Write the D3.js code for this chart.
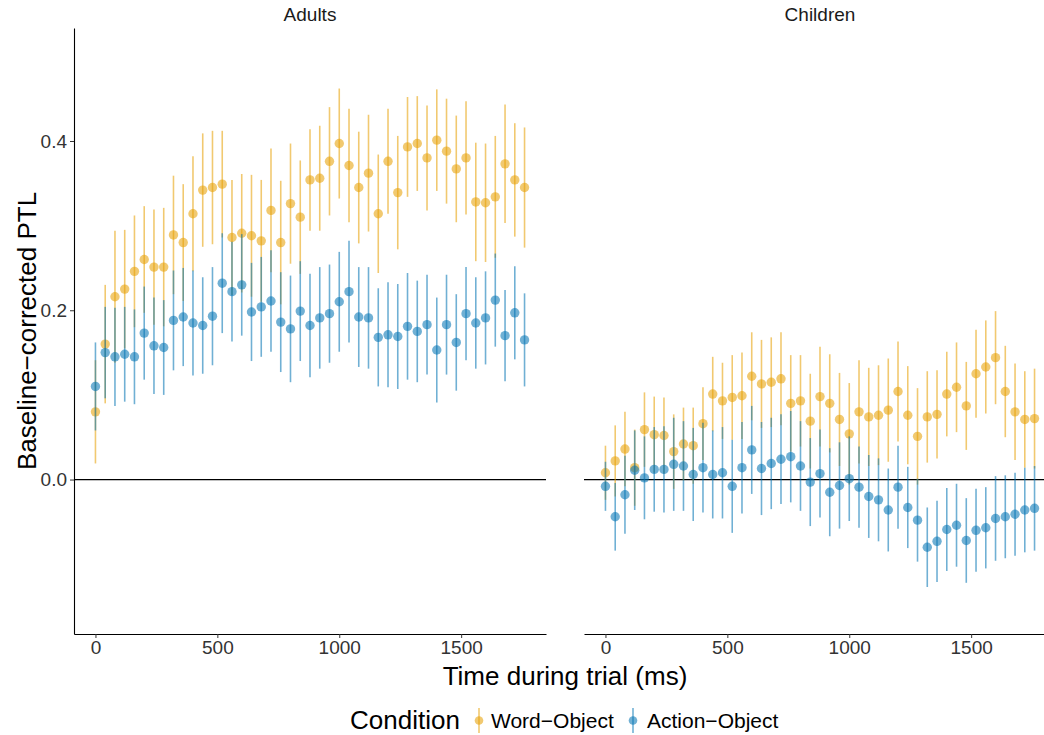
<!DOCTYPE html>
<html>
<head>
<meta charset="utf-8">
<script src="https://cdn.jsdelivr.net/npm/d3@7"></script>
<style>
  body { margin: 0; background: #fff; }
  svg { display: block; font-family: "Liberation Sans", Arial, sans-serif; }
</style>
</head>
<body>
<svg id="chart" width="1044" height="735"></svg>
<script>
// time bins (ms)
var times = [0, 40, 80, 120, 160, 200, 240, 280, 320, 360, 400, 440, 480, 520, 560,
  600, 640, 680, 720, 760, 800, 840, 880, 920, 960, 1000, 1040, 1080, 1120, 1160,
  1200, 1240, 1280, 1320, 1360, 1400, 1440, 1480, 1520, 1560, 1600, 1640, 1680, 1720, 1760];

var panels = ["Adults", "Children"];
var conditions = ["Word\u2212Object", "Action\u2212Object"];
var yTicks = [0, 0.2, 0.4];
var xTicks = [0, 500, 1000, 1500];

// Adults
var adultWord = [0.080, 0.160, 0.216, 0.225, 0.246, 0.260, 0.251, 0.251, 0.289, 0.280, 0.314, 0.342, 0.345, 0.349, 0.286,
  0.291, 0.288, 0.282, 0.318, 0.280, 0.326, 0.310, 0.354, 0.356, 0.376, 0.397, 0.371, 0.345, 0.362, 0.314,
  0.376, 0.339, 0.393, 0.397, 0.380, 0.401, 0.388, 0.367, 0.380, 0.328, 0.327, 0.334, 0.373, 0.354, 0.345];
var adultWordErr = [0.061, 0.070, 0.078, 0.070, 0.066, 0.063, 0.068, 0.070, 0.070, 0.069, 0.068, 0.067, 0.067, 0.063, 0.068,
  0.070, 0.072, 0.072, 0.073, 0.073, 0.071, 0.067, 0.060, 0.062, 0.064, 0.065, 0.067, 0.066, 0.069, 0.070,
  0.062, 0.067, 0.059, 0.056, 0.062, 0.060, 0.062, 0.063, 0.067, 0.070, 0.070, 0.072, 0.070, 0.067, 0.071];
var adultAction = [0.110, 0.150, 0.145, 0.148, 0.145, 0.173, 0.158, 0.156, 0.188, 0.192, 0.185, 0.182, 0.193, 0.232, 0.222,
  0.230, 0.198, 0.204, 0.211, 0.186, 0.178, 0.199, 0.182, 0.191, 0.196, 0.210, 0.222, 0.192, 0.191, 0.168,
  0.171, 0.169, 0.181, 0.175, 0.183, 0.153, 0.183, 0.162, 0.196, 0.185, 0.191, 0.212, 0.170, 0.197, 0.165];
var adultActionErr = [0.052, 0.054, 0.058, 0.056, 0.056, 0.055, 0.057, 0.056, 0.059, 0.058, 0.062, 0.057, 0.058, 0.059, 0.059,
  0.060, 0.058, 0.059, 0.060, 0.059, 0.063, 0.059, 0.061, 0.060, 0.058, 0.059, 0.060, 0.059, 0.060, 0.058,
  0.062, 0.062, 0.063, 0.060, 0.059, 0.062, 0.059, 0.057, 0.055, 0.054, 0.055, 0.055, 0.054, 0.055, 0.055];

// Children
var childWord = [0.008, 0.022, 0.036, 0.014, 0.059, 0.053, 0.052, 0.033, 0.042, 0.040, 0.066, 0.101, 0.093, 0.097, 0.099,
  0.122, 0.113, 0.115, 0.119, 0.090, 0.093, 0.069, 0.098, 0.090, 0.071, 0.054, 0.080, 0.074, 0.076, 0.082,
  0.104, 0.076, 0.051, 0.074, 0.077, 0.101, 0.109, 0.087, 0.125, 0.133, 0.144, 0.104, 0.080, 0.071, 0.072];
var childWordErr = [0.032, 0.042, 0.044, 0.045, 0.044, 0.045, 0.045, 0.044, 0.043, 0.045, 0.043, 0.044, 0.045, 0.050, 0.051,
  0.052, 0.052, 0.053, 0.055, 0.057, 0.054, 0.056, 0.059, 0.058, 0.055, 0.060, 0.061, 0.058, 0.059, 0.061,
  0.059, 0.058, 0.057, 0.054, 0.052, 0.050, 0.053, 0.052, 0.052, 0.055, 0.055, 0.054, 0.057, 0.057, 0.059];
var childAction = [-0.008, -0.044, -0.018, 0.011, 0.002, 0.012, 0.012, 0.018, 0.016, 0.006, 0.014, 0.006, 0.008, -0.008, 0.014,
  0.035, 0.013, 0.019, 0.024, 0.027, 0.016, -0.003, 0.007, -0.015, -0.007, 0.001, -0.009, -0.020, -0.024, -0.036,
  -0.009, -0.033, -0.048, -0.080, -0.073, -0.059, -0.054, -0.072, -0.060, -0.057, -0.046, -0.044, -0.041, -0.036, -0.034];
var childActionErr = [0.029, 0.040, 0.046, 0.047, 0.049, 0.050, 0.051, 0.055, 0.053, 0.055, 0.053, 0.052, 0.054, 0.055, 0.054,
  0.052, 0.055, 0.054, 0.053, 0.054, 0.053, 0.052, 0.052, 0.052, 0.051, 0.050, 0.048, 0.049, 0.049, 0.049,
  0.049, 0.048, 0.049, 0.047, 0.048, 0.049, 0.049, 0.050, 0.049, 0.048, 0.050, 0.049, 0.049, 0.050, 0.050];

var colors = ["#E69F00", "#0072B2"];
var alpha = 0.56;

function series(means, errs) {
  return means.map(function (m, i) { return { t: times[i], m: m, e: errs[i] }; });
}

var panelData = [
  [series(adultWord, adultWordErr), series(adultAction, adultActionErr)],
  [series(childWord, childWordErr), series(childAction, childActionErr)]
];

var svg = d3.select("#chart");

var y = d3.scaleLinear().domain([-0.1825, 0.5335]).range([634, 28]);
var panelX = [[74, 546], [584, 1056]];

panels.forEach(function (name, p) {
  var x = d3.scaleLinear().domain([-88, 1848]).range(panelX[p]);
  var g = svg.append("g");

  // zero line
  g.append("line")
    .attr("x1", panelX[p][0]).attr("x2", panelX[p][1])
    .attr("y1", y(0)).attr("y2", y(0))
    .attr("stroke", "#000").attr("stroke-width", 1.2);

  panelData[p].forEach(function (ser, c) {
    var s = g.append("g");
    s.selectAll("line.eb").data(ser).enter().append("line")
      .attr("class", "eb")
      .attr("x1", function (d) { return x(d.t); })
      .attr("x2", function (d) { return x(d.t); })
      .attr("y1", function (d) { return y(d.m - d.e); })
      .attr("y2", function (d) { return y(d.m + d.e); })
      .attr("stroke", colors[c]).attr("stroke-opacity", alpha)
      .attr("stroke-width", 1.6);
    s.selectAll("circle").data(ser).enter().append("circle")
      .attr("cx", function (d) { return x(d.t); })
      .attr("cy", function (d) { return y(d.m); })
      .attr("r", 4.7)
      .attr("fill", colors[c]).attr("fill-opacity", alpha);
  });

  // x axis
  var xa = g.append("g")
    .attr("transform", "translate(0," + 634 + ")")
    .call(d3.axisBottom(x).tickValues(xTicks).tickFormat(d3.format("d")).tickSizeInner(4).tickSizeOuter(0).tickPadding(3));
  xa.select(".domain").attr("stroke", "#000").attr("stroke-width", 1.1);
  xa.selectAll(".tick line").attr("stroke", "#333");
  xa.selectAll(".tick text").attr("fill", "#333").style("font-size", "19px").style("font-family", "Liberation Sans, Arial, sans-serif");

  // strip label
  g.append("text")
    .attr("x", (panelX[p][0] + panelX[p][1]) / 2).attr("y", 21)
    .attr("text-anchor", "middle")
    .attr("fill", "#1a1a1a").style("font-size", "19px")
    .text(name);

  if (p === 0) {
    var ya = g.append("g")
      .attr("transform", "translate(74,0)")
      .call(d3.axisLeft(y).tickValues(yTicks).tickFormat(d3.format(".1f")).tickSizeInner(4).tickSizeOuter(0).tickPadding(3));
    ya.select(".domain").attr("stroke", "#000").attr("stroke-width", 1.1);
    ya.selectAll(".tick line").attr("stroke", "#333");
    ya.selectAll(".tick text").attr("fill", "#333").style("font-size", "19px").style("font-family", "Liberation Sans, Arial, sans-serif");
  }
});

// axis titles
svg.append("text")
  .attr("x", 565).attr("y", 685)
  .attr("text-anchor", "middle")
  .style("font-size", "26px")
  .text("Time during trial (ms)");

svg.append("text")
  .attr("transform", "translate(36,331) rotate(-90)")
  .attr("text-anchor", "middle")
  .style("font-size", "26px")
  .text("Baseline\u2212corrected PTL");

// legend
var lg = svg.append("g");
lg.append("text")
  .attr("x", 350).attr("y", 729)
  .style("font-size", "26px")
  .text("Condition");

var keyX = [479, 633];
var labelX = [491, 647];
conditions.forEach(function (name, c) {
  lg.append("line")
    .attr("x1", keyX[c]).attr("x2", keyX[c])
    .attr("y1", 708).attr("y2", 733)
    .attr("stroke", colors[c]).attr("stroke-opacity", alpha).attr("stroke-width", 1.6);
  lg.append("circle")
    .attr("cx", keyX[c]).attr("cy", 720.5).attr("r", 4.3)
    .attr("fill", colors[c]).attr("fill-opacity", alpha);
  lg.append("text")
    .attr("x", labelX[c]).attr("y", 727.5)
    .style("font-size", "21px")
    .text(name);
});
</script>
</body>
</html>
